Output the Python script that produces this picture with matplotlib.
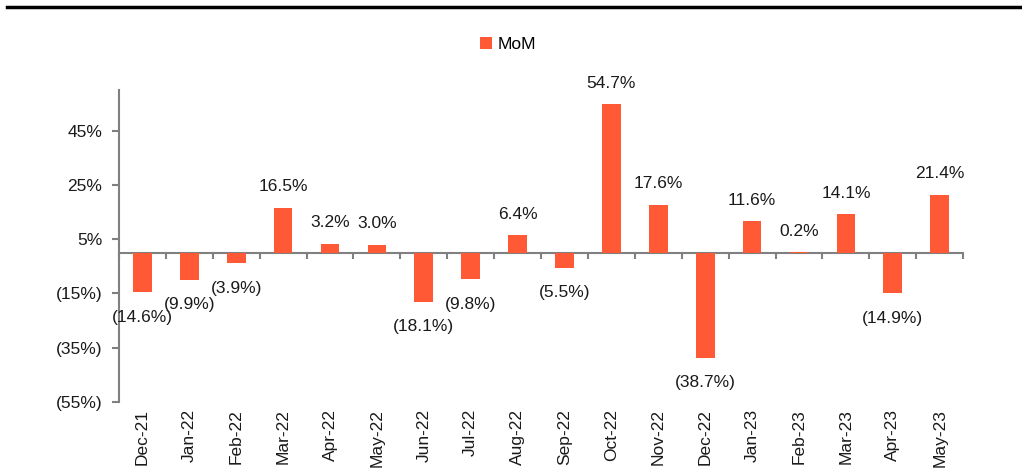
import matplotlib
matplotlib.use('Agg')
import matplotlib.pyplot as plt
from matplotlib import font_manager
from matplotlib.lines import Line2D
import numpy as np

months = ['Dec-21', 'Jan-22', 'Feb-22', 'Mar-22', 'Apr-22', 'May-22', 'Jun-22', 'Jul-22', 'Aug-22',
          'Sep-22', 'Oct-22', 'Nov-22', 'Dec-22', 'Jan-23', 'Feb-23', 'Mar-23', 'Apr-23', 'May-23']
mom = [-14.6, -9.9, -3.9, 16.5, 3.2, 3.0, -18.1, -9.8, 6.4,
       -5.5, 54.7, 17.6, -38.7, 11.6, 0.2, 14.1, -14.9, 21.4]
yticks = [-55, -35, -15, 5, 25, 45]

names = {f.name for f in font_manager.fontManager.ttflist}
if 'Liberation Sans Narrow' in names:
    fam = ['Liberation Sans Narrow', 'DejaVu Sans']
    fs = 14
else:
    fam = ['Liberation Sans', 'DejaVu Sans']
    fs = 12.5
plt.rcParams['font.family'] = fam

bar_col = '#FF5A35'
grey = '#808080'
txt = '#1a1a1a'

def pct(v):
    if v < 0:
        return '(%.1f%%)' % abs(v)
    return '%.1f%%' % v

def tick_fmt(v):
    if v < 0:
        return '(%d%%)' % abs(v)
    return '%d%%' % v

fig = plt.figure(figsize=(10.22, 4.76), dpi=100)
ax = fig.add_axes([0.1164, 0.1555, 0.826, 0.6555])

x = np.arange(len(months))
bars = ax.bar(x, mom, width=0.4, color=bar_col, label='MoM', zorder=2)

ymin, ymax = -55, 60
ax.set_ylim(ymin, ymax)
ax.set_xlim(-0.5, len(months) - 0.5)

for xi, v in zip(x, mom):
    if v >= 0:
        ax.annotate(pct(v), (xi, v), xytext=(0, 12), textcoords='offset points',
                    ha='center', va='baseline', fontsize=fs, color=txt)
    else:
        ax.annotate(pct(v), (xi, v), xytext=(0, -12.5), textcoords='offset points',
                    ha='center', va='top', fontsize=fs, color=txt)

ax.set_yticks(yticks)
ax.set_yticklabels([tick_fmt(t) for t in yticks], fontsize=fs, color=txt)
ax.tick_params(axis='y', length=5, width=1.5, color=grey, pad=7)

ax.set_xticks(x)
ax.set_xticklabels(months, rotation=90, fontsize=fs, color=txt)
ax.tick_params(axis='x', length=0, pad=5)

for s in ['top', 'right', 'bottom']:
    ax.spines[s].set_visible(False)
ax.spines['left'].set_color(grey)
ax.spines['left'].set_linewidth(1.5)

# category axis drawn at zero, tick marks between the months
zero_frac = -ymin / (ymax - ymin)
sec = ax.secondary_xaxis(zero_frac)
sec.set_xticks(np.arange(len(months) + 1) - 0.5)
sec.set_xticklabels([])
sec.tick_params(axis='x', length=4, width=1.5, color=grey)
sec.spines['bottom'].set_color(grey)
sec.spines['bottom'].set_linewidth(1.5)

fig.legend(handles=[bars], labels=['MoM'], loc='center', bbox_to_anchor=(0.497, 0.906),
           frameon=False, fontsize=fs, handlelength=0.7, handleheight=0.7, handletextpad=0.3)

fig.add_artist(Line2D([0.007, 1.0], [0.985, 0.985], color='black', linewidth=2.5,
                      transform=fig.transFigure))

fig.savefig('out.png', dpi=100)
